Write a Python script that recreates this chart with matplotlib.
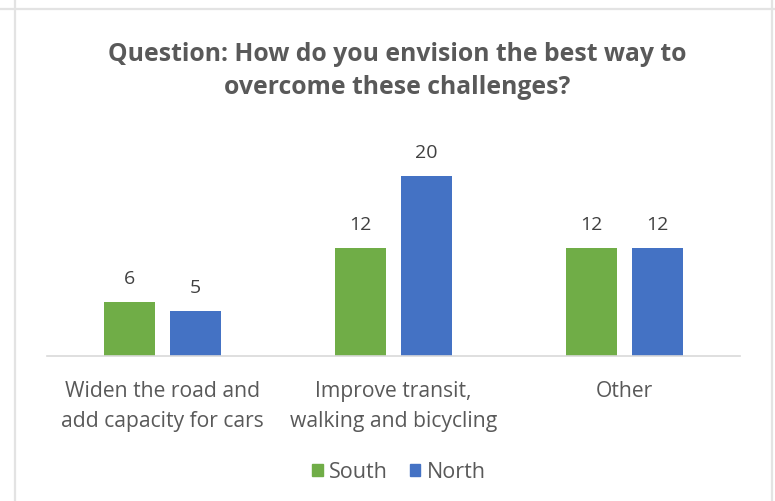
import numpy as np
import matplotlib.pyplot as plt
from matplotlib.lines import Line2D
from matplotlib.patches import Patch

categories = ["Widen the road and\nadd capacity for cars",
              "Improve transit,\nwalking and bicycling",
              "Other"]
south = [6, 12, 12]
north = [5, 20, 12]

title = "Question: How do you envision the best way to\novercome these challenges?"

GREEN = "#70AD47"
BLUE = "#4472C4"
TEXT = "#595959"
GRID = "#D9D9D9"

plt.rcParams['font.family'] = ['Open Sans', 'DejaVu Sans']

fig = plt.figure(figsize=(7.75, 5.02), dpi=100)
W, H = 775, 502

# chart frame (borders of the surrounding chart boxes)
def fline(xs, ys):
    fig.add_artist(Line2D([x / W for x in xs], [1 - y / H for y in ys],
                          color="#E3E3E3", lw=1.6, transform=fig.transFigure))

fline([0, W], [10, 10])
fline([15, 15], [0, H])
fline([772, 772], [0, H])

ax = fig.add_axes([47 / W, (H - 357) / H, 693 / W, 225 / H])
x = np.arange(len(categories))
bw = 0.22
off = 0.143
b1 = ax.bar(x - off, south, bw, color=GREEN, label="South")
b2 = ax.bar(x + off, north, bw, color=BLUE, label="North")

for bars in (b1, b2):
    for rect in bars:
        h = rect.get_height()
        ax.annotate(f"{h:g}", (rect.get_x() + rect.get_width() / 2, h),
                    xytext=(0, 17), textcoords="offset points",
                    ha="center", va="center", fontsize=14, color="#404040")

ax.set_xlim(-0.5, len(categories) - 0.5)
ax.set_ylim(0, 25)
ax.set_yticks([])
ax.set_xticks(x)
ax.set_xticklabels(categories, fontsize=15.2, color=TEXT, linespacing=1.6)
ax.tick_params(axis="x", length=0, pad=17)
for s in ("top", "right", "left"):
    ax.spines[s].set_visible(False)
ax.spines["bottom"].set_color(GRID)
ax.spines["bottom"].set_linewidth(1.2)

fig.text(397 / W, 1 - 71 / H, title, ha="center", va="center",
         fontsize=17.8, fontweight="bold", color=TEXT, linespacing=1.45)

fig.legend(handles=[Patch(color=GREEN, label="South"), Patch(color=BLUE, label="North")],
           loc="center", bbox_to_anchor=(399 / W, 1 - 473 / H), ncol=2,
           frameon=False, fontsize=15.5, labelcolor=TEXT,
           handlelength=0.5, handleheight=0.5, handletextpad=0.3, columnspacing=1.0)

fig.savefig("out.png", dpi=100)
